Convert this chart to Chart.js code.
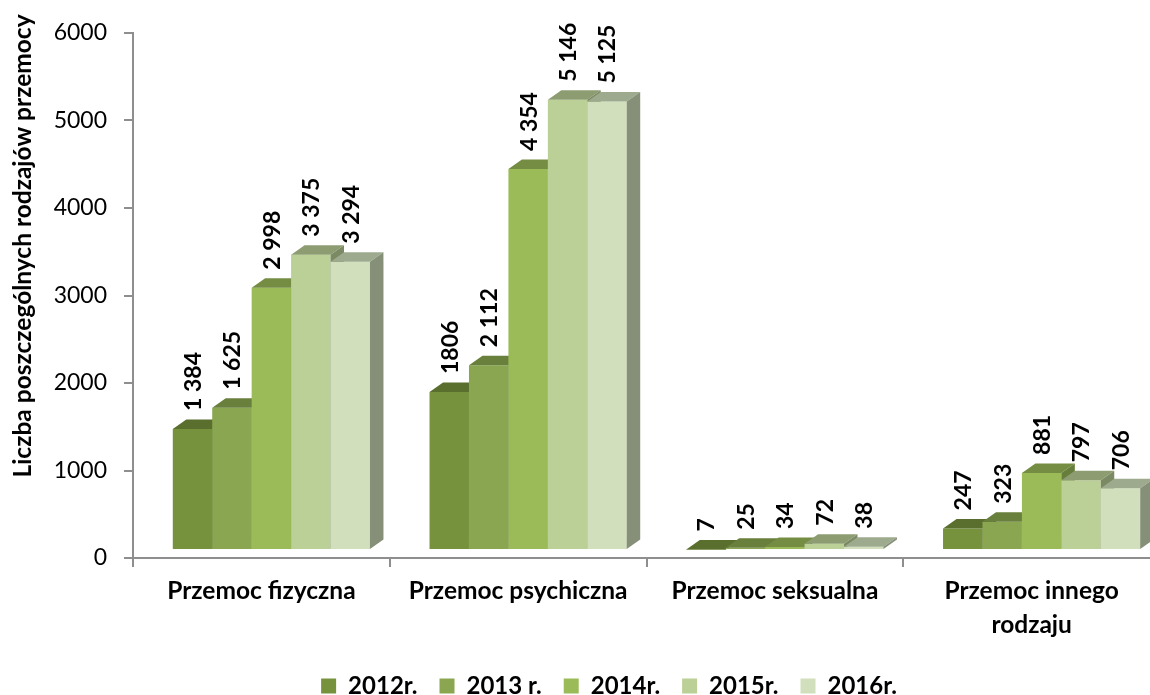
<!DOCTYPE html>
<html>
<head>
<meta charset="utf-8">
<script src="https://cdn.jsdelivr.net/npm/chart.js@4/dist/chart.umd.min.js"></script>
<style>
  html, body { margin: 0; padding: 0; background: #fff; overflow: hidden; }
  canvas { display: block; }
</style>
</head>
<body>
<canvas id="chart_przemoc" width="1170" height="695"></canvas>
<script>
const categories = [
  'Przemoc fizyczna',
  'Przemoc psychiczna',
  'Przemoc seksualna',
  ['Przemoc innego', 'rodzaju']
];
const years = ['2012r.', '2013 r.', '2014r.', '2015r.', '2016r.'];

const values2012 = [1384, 1806, 7, 247];
const values2013 = [1625, 2112, 25, 323];
const values2014 = [2998, 4354, 34, 881];
const values2015 = [3375, 5146, 72, 797];
const values2016 = [3294, 5125, 38, 706];

const labels2012 = ['1 384', '1806', '7', '247'];
const labels2013 = ['1 625', '2 112', '25', '323'];
const labels2014 = ['2 998', '4 354', '34', '881'];
const labels2015 = ['3 375', '5 146', '72', '797'];
const labels2016 = ['3 294', '5 125', '38', '706'];

const yTicks = [0, 1000, 2000, 3000, 4000, 5000, 6000];

const allValues = [values2012, values2013, values2014, values2015, values2016];
const allLabels = [labels2012, labels2013, labels2014, labels2015, labels2016];
const frontColors = ['#76923c', '#8aa650', '#9bbb59', '#bbd096', '#d2dfbc'];
const topColors = ['#5a6e2e', '#697f3c', '#758d43', '#8d9d71', '#9eaa8e'];
const sideColors = ['#4f6028', '#5d7035', '#677d3b', '#7c8a63', '#868f78'];

const FONT = 'Lato, "Open Sans", sans-serif';
// the whole 3D block sits a bit off the axis, like the old Excel charts
const shiftX = 10, shiftY = -8;
const depthX = 13.5, depthY = -9.5;

function drawFaces(ctx, el, i) {
  const l = el.x - el.width / 2, r = el.x + el.width / 2;
  // top face
  ctx.fillStyle = topColors[i];
  ctx.beginPath();
  ctx.moveTo(l, el.y);
  ctx.lineTo(l + depthX, el.y + depthY);
  ctx.lineTo(r + depthX, el.y + depthY);
  ctx.lineTo(r, el.y);
  ctx.closePath();
  ctx.fill();
  // side face
  ctx.fillStyle = sideColors[i];
  ctx.beginPath();
  ctx.moveTo(r, el.y);
  ctx.lineTo(r + depthX, el.y + depthY);
  ctx.lineTo(r + depthX, el.base + depthY);
  ctx.lineTo(r, el.base);
  ctx.closePath();
  ctx.fill();
}

const bars3d = {
  id: 'bars3d',
  afterLayout(chart) {
    // legend row sits lower and slightly right of where the layout puts it
    chart.legend.top += 13;
    chart.legend.bottom += 13;
    chart.legend.left += 4;
    chart.legend.right += 4;
  },
  beforeDatasetsDraw(chart) {
    const ctx = chart.ctx;
    // chart.js paints the first dataset last, here 2012 has to go first so 2013 covers its side
    chart.data.datasets.forEach(function (ds, i) {
      const meta = chart.getDatasetMeta(i);
      ctx.save();
      ctx.translate(shiftX, shiftY);
      meta.controller.draw();
      meta.data.forEach(function (el) { drawFaces(ctx, el, i); });
      ctx.restore();
    });
    // value labels
    ctx.save();
    ctx.fillStyle = '#000';
    ctx.font = 'bold 23px ' + FONT;
    ctx.textAlign = 'left';
    ctx.textBaseline = 'middle';
    chart.data.datasets.forEach(function (ds, i) {
      chart.getDatasetMeta(i).data.forEach(function (el, j) {
        ctx.save();
        ctx.translate(el.x + shiftX + 1, el.y + shiftY - 18);
        ctx.rotate(-Math.PI / 2);
        ctx.fillText(allLabels[i][j], 0, 0);
        ctx.restore();
      });
    });
    ctx.restore();
    return false;
  },
  afterDraw(chart) {
    const ctx = chart.ctx;
    ctx.save();
    ctx.fillStyle = '#000';
    ctx.font = 'bold 24.5px ' + FONT;
    ctx.textAlign = 'center';
    ctx.textBaseline = 'middle';
    ctx.translate(23, 246);
    ctx.rotate(-Math.PI / 2);
    ctx.fillText('Liczba poszczególnych rodzajów przemocy', 0, 0);
    ctx.restore();
  }
};

const chart_przemoc = new Chart(document.getElementById('chart_przemoc'), {
  type: 'bar',
  data: {
    labels: categories,
    datasets: years.map(function (year, i) {
      return {
        label: year,
        data: allValues[i],
        backgroundColor: frontColors[i],
        borderWidth: 0,
        categoryPercentage: 0.768,
        barPercentage: 1
      };
    })
  },
  options: {
    responsive: false,
    animation: false,
    layout: {
      autoPadding: false,
      padding: { left: 50, right: 10, top: 33, bottom: 0 }
    },
    scales: {
      x: {
        grid: { display: true, drawOnChartArea: false, drawTicks: true, tickLength: 9, color: '#8e8e8e', lineWidth: 2 },
        border: { color: '#8e8e8e', width: 2 },
        ticks: {
          autoSkip: false,
          maxRotation: 0,
          minRotation: 0,
          color: '#000',
          padding: 8,
          font: { family: FONT, size: 24.5, weight: 'bold', lineHeight: 1.35 }
        },
        afterFit(scale) { scale.height = 81; }
      },
      y: {
        min: 0,
        max: 6000,
        afterBuildTicks(scale) { scale.ticks = yTicks.map(function (v) { return { value: v }; }); },
        grid: { display: true, drawOnChartArea: false, drawTicks: true, tickLength: 9, color: '#8e8e8e', lineWidth: 2 },
        border: { color: '#8e8e8e', width: 2 },
        ticks: {
          color: '#000',
          padding: 17,
          font: { family: FONT, size: 23 },
          callback: function (value) { return String(value); }
        },
        afterFit(scale) { scale.width = 83; }
      }
    },
    plugins: {
      legend: {
        position: 'bottom',
        labels: {
          boxWidth: 15,
          boxHeight: 15,
          padding: 22,
          color: '#000',
          font: { family: FONT, size: 24, weight: 'bold' }
        }
      },
      tooltip: { enabled: false }
    }
  },
  plugins: [bars3d]
});
</script>
</body>
</html>
